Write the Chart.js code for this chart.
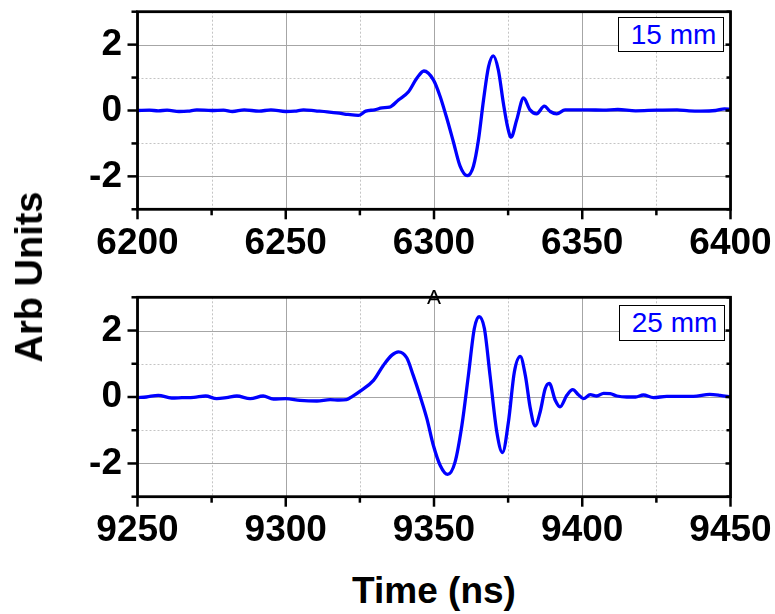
<!DOCTYPE html>
<html>
<head>
<meta charset="utf-8">
<script src="https://cdn.jsdelivr.net/npm/chart.js@4.4.1/dist/chart.umd.min.js"></script>
<style>
  html, body { margin: 0; padding: 0; background: #fff; }
  body { width: 775px; height: 614px; position: relative; overflow: hidden;
         font-family: "Liberation Sans", Arial, sans-serif; }
  canvas { position: absolute; left: 0; z-index: 1; }
  #cTop { top: 0; }
  #cBot { top: 280px; }
  .lbl { position: absolute; color: #000; white-space: nowrap; z-index: 5; }
  .ylab { left: 29px; top: 277px; font-size: 38px; font-weight: bold; line-height: 38px;
          transform: translate(-50%, -50%) rotate(-90deg); }
  .xlab { left: 434px; top: 572px; font-size: 37px; font-weight: bold; line-height: 37px;
          transform: translateX(-50%); }
  .mark { left: 434px; top: 286px; font-size: 21px; line-height: 21px; transform: translateX(-50%); }
  .legend { position: absolute; border: 1.5px solid #000; background: #fff; color: #0000ff;
            font-size: 28px; line-height: 28px; display: flex; align-items: center; z-index: 5;
            justify-content: center; box-sizing: border-box; padding-left: 5px; }
</style>
</head>
<body>
<canvas id="cTop" width="775" height="270"></canvas>
<canvas id="cBot" width="775" height="270"></canvas>

<div class="lbl ylab">Arb Units</div>
<div class="lbl xlab">Time (ns)</div>
<div class="lbl mark">A</div>
<div class="legend" style="left:618px; top:17px; width:106px; height:35px;">15 mm</div>
<div class="legend" style="left:619px; top:305px; width:106px; height:36px;">25 mm</div>

<script>
/* ── Data: 15 mm trace ───────────────────────────────────────────────────── */
const timeTop = [
  6200, 6204, 6207, 6210, 6214, 6217, 6220, 6225, 6229, 6232, 6236, 6241, 6245,
  6250, 6253, 6256, 6260, 6264, 6268, 6271, 6274.5, 6277, 6280, 6282.5, 6285,
  6288, 6291.4, 6294.2, 6296.6, 6299.8, 6302.1, 6304.3, 6306.5, 6308.8, 6311.2,
  6313.3, 6315, 6316.7, 6318.4, 6320, 6321.7, 6323.4, 6324.9, 6326, 6327.9,
  6330.2, 6332.4, 6334.6, 6337.2, 6339.2, 6341.4, 6344.2, 6347.6, 6352, 6357,
  6362, 6368, 6375, 6382, 6386, 6390, 6395, 6398, 6400
];
const ampTop = [
  0, 0.01, -0.01, 0.01, -0.03, -0.02, 0.02, 0, 0.01, -0.03, 0.02, -0.02, 0.02,
  -0.03, -0.02, 0.02, -0.01, -0.04, -0.08, -0.12, -0.15, -0.02, 0.02, 0.08, 0.1,
  0.32, 0.57, 0.98, 1.2, 0.93, 0.42, -0.23, -0.94, -1.69, -1.98,
  -1.69, -0.89, 0.32, 1.33, 1.66, 1.23, 0.22, -0.53, -0.81, -0.28,
  0.38, 0.02, -0.1, 0.13, -0.03, -0.1, 0.02, 0.02, 0.02, 0.01,
  0.03, -0.01, 0.01, 0.02, -0.01, -0.02, 0, 0.05, 0.03
];

/* ── Data: 25 mm trace ───────────────────────────────────────────────────── */
const timeBot = [
  9250, 9253, 9257, 9261.5, 9265, 9269, 9273, 9276.7, 9280, 9283.5, 9288, 9292.4,
  9295.8, 9300, 9304.8, 9310.5, 9315, 9318, 9320.5, 9322.5, 9325, 9329.6, 9332.9,
  9335.8, 9338, 9340.8, 9343, 9345.3, 9347.6, 9349.8, 9352.1, 9354.6, 9357.1,
  9359.4, 9361.6, 9363.6, 9365.2, 9367, 9368.9, 9371.2, 9373.1, 9375.1, 9377.1,
  9379.1, 9380.8, 9382.5, 9384.1, 9385.8, 9387.5, 9388.9, 9390.9, 9392.5, 9394.8,
  9396.8, 9398.7, 9400.4, 9402.7, 9404.9, 9407.2, 9409.4, 9411.7, 9415, 9418,
  9420.6, 9424, 9428.5, 9434, 9437.5, 9443, 9446.5, 9450
];
const ampBot = [
  -0.02, 0, 0.05, -0.03, -0.02, -0.01, 0.03, -0.05, -0.02, 0.03, -0.05, 0.03,
  -0.06, -0.05, -0.1, -0.12, -0.08, -0.09, -0.08, 0.02, 0.17, 0.5, 0.95,
  1.26, 1.36, 1.18, 0.65, 0.03, -0.65, -1.46, -2.06, -2.33, -1.96,
  -0.86, 0.65, 2.06, 2.42, 2.06, 0.65, -1.06, -1.67, -0.75, 0.75,
  1.22, 0.65, -0.35, -0.87, -0.45, 0.25, 0.41, -0.1, -0.3, 0.05,
  0.22, 0.07, -0.05, 0.07, 0.03, 0.11, 0.1, 0.03, 0, 0,
  0.06, -0.02, 0.02, 0.02, 0.02, 0.08, 0.05, 0
];

/* ── Axis ticks ──────────────────────────────────────────────────────────── */
const topTicksX = [6200, 6250, 6300, 6350, 6400];
const topMinorX = [6225, 6275, 6325, 6375];
const botTicksX = [9250, 9300, 9350, 9400, 9450];
const botMinorX = [9275, 9325, 9375, 9425];
const ticksY    = [-2, 0, 2];
const minorY    = [-3, -1, 1, 3];

const TICK_FONT = { family: '"Liberation Sans", Arial, sans-serif', size: 37, weight: 'bold' };

/* ── Grid, frame and tick marks drawn off the chart's own scales ─────────── */
const framePlugin = {
  id: 'frame',
  beforeDatasetsDraw(chart, args, opts) {
    const { ctx, chartArea: a, scales: { x, y } } = chart;
    ctx.save();
    ctx.lineWidth = 1;

    // minor, dotted
    ctx.strokeStyle = '#c4c4c4';
    ctx.setLineDash([2, 2]);
    opts.minorX.forEach(v => {
      const px = Math.round(x.getPixelForValue(v)) + 0.5;
      ctx.beginPath(); ctx.moveTo(px, a.top); ctx.lineTo(px, a.bottom); ctx.stroke();
    });
    [-1, 1].forEach(v => {
      const py = Math.round(y.getPixelForValue(v)) + 0.5;
      ctx.beginPath(); ctx.moveTo(a.left, py); ctx.lineTo(a.right, py); ctx.stroke();
    });

    // major, solid
    ctx.setLineDash([]);
    ctx.strokeStyle = '#a6a6a6';
    x.ticks.forEach(t => {
      const px = Math.round(x.getPixelForValue(t.value)) + 0.5;
      ctx.beginPath(); ctx.moveTo(px, a.top); ctx.lineTo(px, a.bottom); ctx.stroke();
    });
    y.ticks.forEach(t => {
      const py = Math.round(y.getPixelForValue(t.value)) + 0.5;
      ctx.beginPath(); ctx.moveTo(a.left, py); ctx.lineTo(a.right, py); ctx.stroke();
    });
    ctx.restore();
  },
  afterDatasetsDraw(chart, args, opts) {
    const { ctx, chartArea: a, scales: { x, y } } = chart;
    ctx.save();
    ctx.strokeStyle = '#000';
    ctx.lineWidth = 2.5;

    const tick = (x1, y1, x2, y2) => {
      ctx.beginPath(); ctx.moveTo(x1, y1); ctx.lineTo(x2, y2); ctx.stroke();
    };

    // left ticks out, right ticks in
    y.ticks.forEach(t => {
      const py = y.getPixelForValue(t.value);
      tick(a.left - 10, py, a.left, py);
      tick(a.right - 5, py, a.right, py);
    });
    minorY.forEach(v => {
      const py = y.getPixelForValue(v);
      tick(a.left - 6, py, a.left, py);
      tick(a.right - 4, py, a.right, py);
    });

    // bottom ticks out
    x.ticks.forEach(t => {
      const px = x.getPixelForValue(t.value);
      tick(px, a.bottom, px, a.bottom + 10);
    });
    opts.minorX.forEach(v => {
      const px = x.getPixelForValue(v);
      tick(px, a.bottom, px, a.bottom + 6);
    });

    ctx.lineWidth = 2.8;
    ctx.strokeRect(a.left, a.top, a.right - a.left, a.bottom - a.top);
    ctx.restore();
  }
};

/* ── Builder ─────────────────────────────────────────────────────────────── */
function makePanel(canvasId, times, amps, majorX, minorX, padTop, axisH) {
  const ctx = document.getElementById(canvasId).getContext('2d');
  return new Chart(ctx, {
    type: 'line',
    data: {
      datasets: [{
        data: times.map((t, i) => ({ x: t, y: amps[i] })),
        borderColor: '#0000ff',
        borderWidth: 3.3,
        pointRadius: 0,
        fill: false,
        cubicInterpolationMode: 'monotone',
      }]
    },
    options: {
      responsive: false,
      animation: false,
      layout: { padding: { top: padTop, right: 44.5, bottom: 0, left: 0 } },
      plugins: {
        legend: { display: false },
        tooltip: { enabled: false },
        frame: { minorX },
      },
      scales: {
        x: {
          type: 'linear',
          min: majorX[0],
          max: majorX[majorX.length - 1],
          grid: { display: false, drawTicks: false },
          border: { display: false },
          afterBuildTicks: s => { s.ticks = majorX.map(v => ({ value: v })); },
          afterFit: s => { s.height = axisH; s.paddingLeft = 0; s.paddingRight = 0; },
          ticks: {
            autoSkip: false, maxRotation: 0, minRotation: 0,
            padding: 12, color: '#000', font: TICK_FONT,
            callback: v => String(v),
          },
        },
        y: {
          min: -3,
          max: 3,
          grid: { display: false, drawTicks: false },
          border: { display: false },
          afterBuildTicks: s => { s.ticks = ticksY.map(v => ({ value: v })); },
          afterFit: s => { s.width = 137.5; s.paddingTop = 0; s.paddingBottom = 0; },
          ticks: {
            autoSkip: false, padding: 15.5, color: '#000', font: TICK_FONT,
            callback: v => String(v),
          },
        },
      },
    },
    plugins: [framePlugin],
  });
}

makePanel('cTop', timeTop, ampTop, topTicksX, topMinorX, 11.7, 60.7);
makePanel('cBot', timeBot, ampBot, botTicksX, botMinorX, 17.3, 53.3);
</script>
</body>
</html>
